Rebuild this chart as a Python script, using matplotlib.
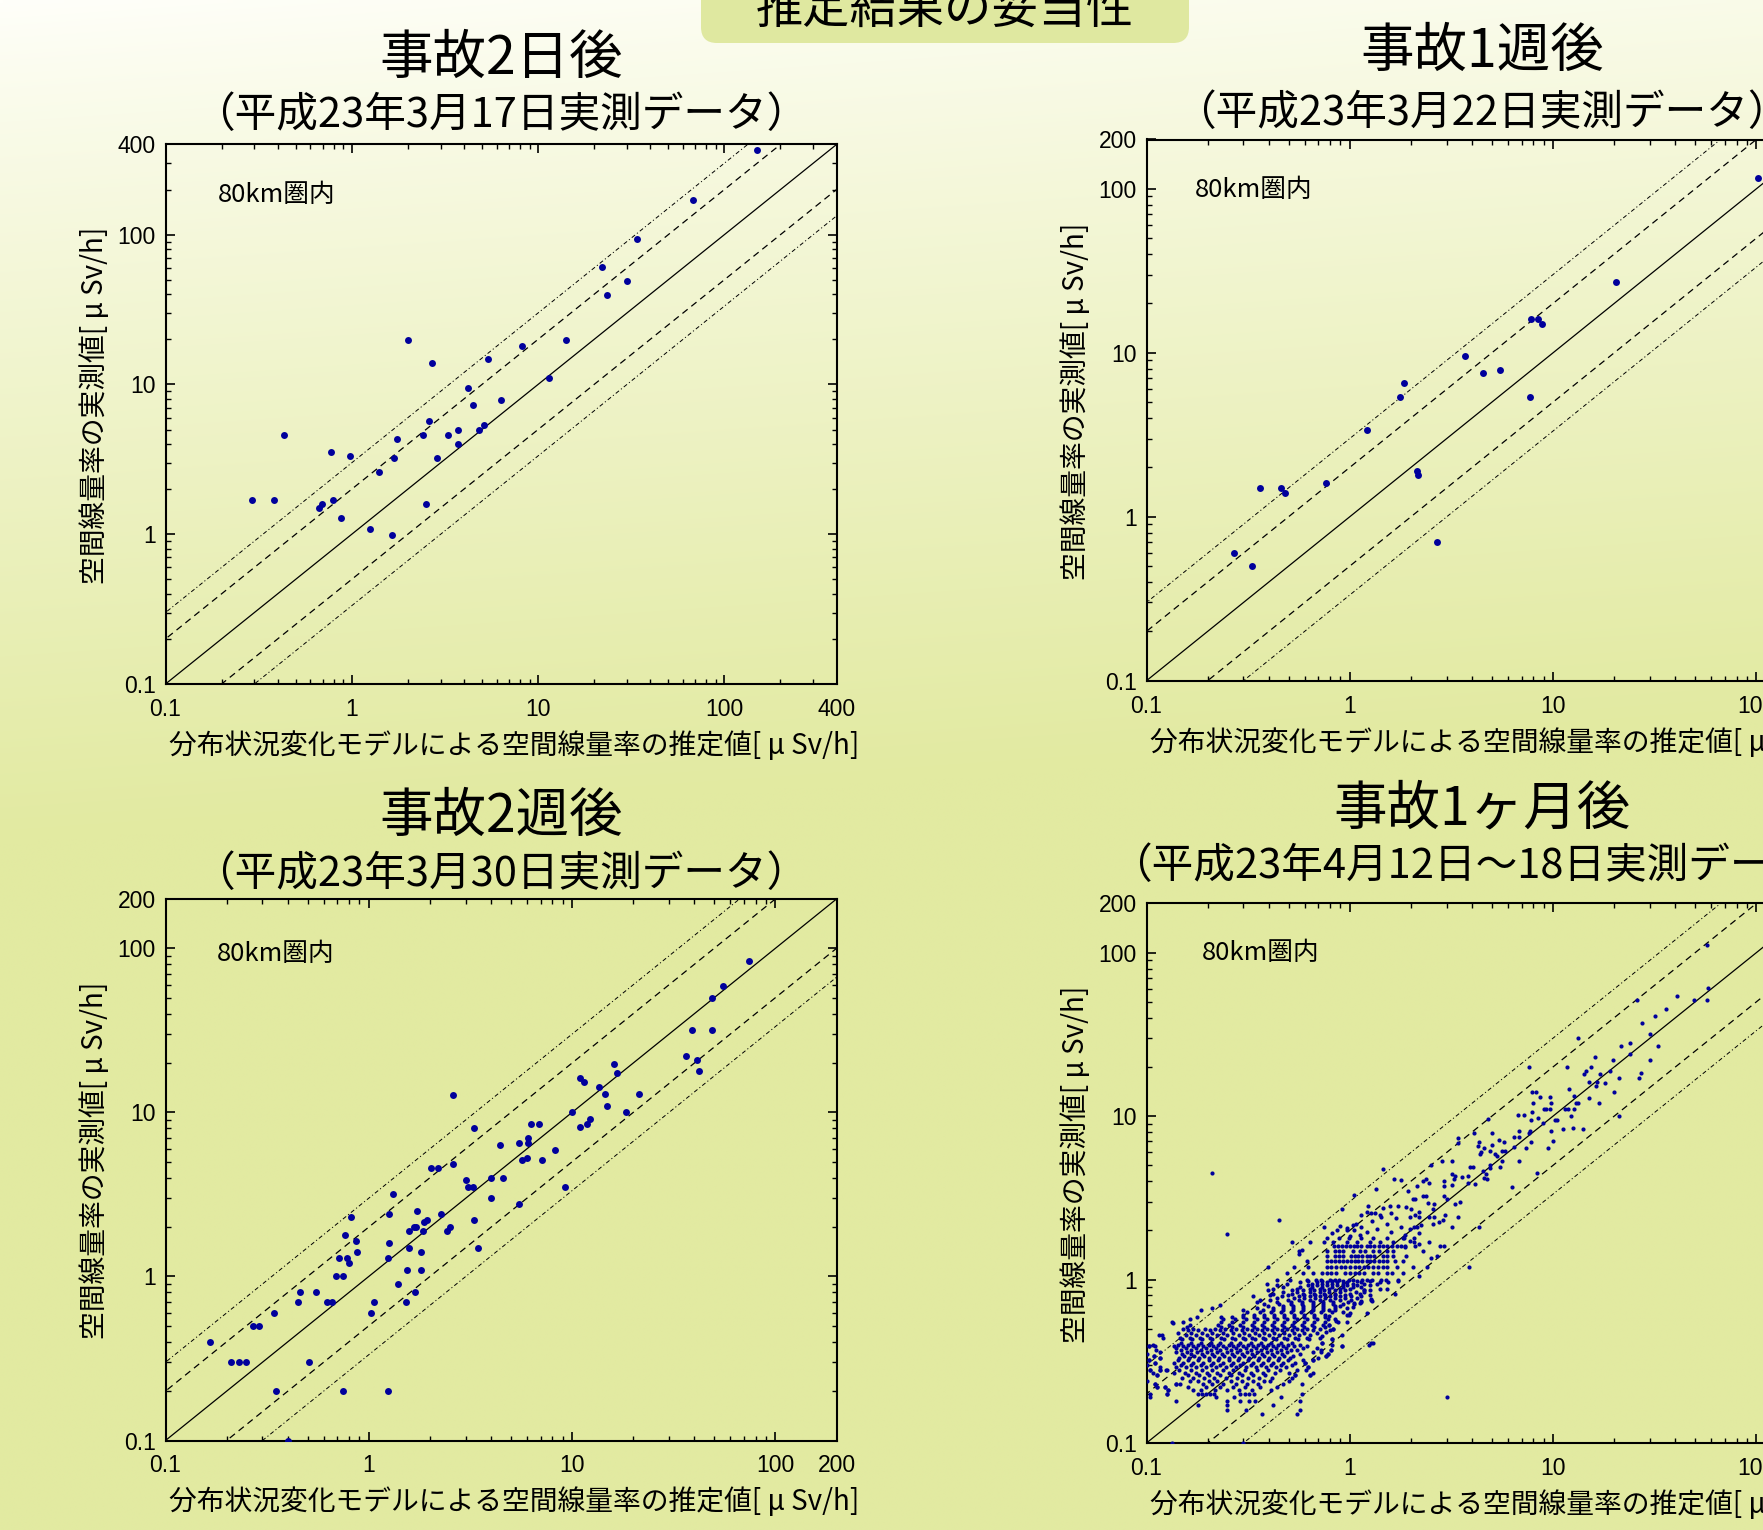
import numpy as np
import matplotlib
matplotlib.use("Agg")
import matplotlib.pyplot as plt
from matplotlib.patches import FancyBboxPatch
from matplotlib.transforms import IdentityTransform
from matplotlib.ticker import FixedLocator, FixedFormatter, LogLocator, NullFormatter

plt.rcParams["lines.scale_dashes"] = False

W, H = 1763, 1530
JP = ["Noto Sans CJK JP", "DejaVu Sans"]
NUM = ["Liberation Sans", "DejaVu Sans"]
DOT = "#00009c"

MAIN_TITLE = "推定結果の妥当性"
XLABEL = "分布状況変化モデルによる空間線量率の推定値[ μ Sv/h]"
YLABEL = "空間線量率の実測値[ μ Sv/h]"
NOTE = "80km圏内"

# ---- 事故2日後 (estimated, measured) ----
day2_pts = [(150, 365), (68, 170), (34, 94), (22, 61), (30, 49), (23.5, 39.5), (2.0, 19.8),
            (14.2, 19.8), (8.2, 18.1), (5.4, 14.8), (2.7, 13.8), (11.4, 11.1), (4.2, 9.4),
            (6.3, 7.9), (4.5, 7.3), (2.6, 5.7), (5.1, 5.4), (3.7, 5.0), (4.8, 5.0), (2.4, 4.6),
            (3.3, 4.6), (0.43, 4.6), (1.75, 4.3), (3.7, 4.0), (0.77, 3.55), (0.98, 3.35),
            (1.68, 3.25), (2.85, 3.25), (1.4, 2.6), (0.29, 1.68), (0.38, 1.68), (0.79, 1.68),
            (0.67, 1.49), (0.69, 1.58), (2.5, 1.58), (0.88, 1.29), (1.25, 1.08), (1.65, 0.99)]

# ---- 事故1週後 ----
week1_pts = [(102, 117), (20.5, 27), (7.8, 16), (8.4, 16), (8.8, 15), (3.7, 9.6), (4.5, 7.5),
             (5.5, 7.8), (7.7, 5.4), (1.84, 6.5), (1.77, 5.4), (1.21, 3.4), (2.14, 1.9),
             (2.16, 1.8), (0.76, 1.6), (0.36, 1.5), (0.46, 1.5), (0.48, 1.4), (2.7, 0.7),
             (0.27, 0.6), (0.33, 0.5)]

# ---- 事故2週後 ----
week2_pts = [(74, 84), (55, 59), (49, 50), (39, 32), (49, 32), (36.5, 22), (41, 21), (42, 18),
             (16, 19.8), (16.6, 17.3), (10.9, 16.3), (11.5, 15.4), (13.5, 14.2), (14.6, 13),
             (21.4, 13), (14.8, 11), (18.5, 10), (10, 10), (2.6, 12.8), (12.2, 9.1), (11.8, 8.5),
             (11, 8.2), (6.3, 8.5), (6.9, 8.5), (3.3, 8.0), (6.1, 7.0), (5.5, 6.5), (6.1, 6.5),
             (4.4, 6.3), (8.2, 5.9), (6.0, 5.3), (5.7, 5.1), (7.1, 5.1), (2.03, 4.6), (2.2, 4.6),
             (2.6, 4.85), (3.0, 3.9), (4.0, 4.0), (4.6, 4.0), (3.07, 3.5), (3.25, 3.5), (9.2, 3.5),
             (1.32, 3.2), (4.0, 3.0), (5.5, 2.75), (1.72, 2.5), (1.26, 2.4), (2.27, 2.4),
             (0.82, 2.3), (3.3, 2.2), (1.93, 2.2), (1.88, 2.15), (1.67, 2.0), (1.70, 2.0),
             (2.5, 2.0), (1.57, 1.9), (1.84, 1.9), (2.42, 1.9), (1.26, 1.6), (0.76, 1.8),
             (0.87, 1.65), (1.58, 1.5), (3.45, 1.5), (0.88, 1.4), (1.8, 1.4), (0.71, 1.3),
             (0.78, 1.3), (1.24, 1.3), (0.80, 1.2), (0.69, 1.0), (0.75, 1.0), (1.54, 1.1),
             (1.8, 1.1), (1.39, 0.9), (0.46, 0.8), (0.55, 0.8), (1.68, 0.8), (0.45, 0.7),
             (0.62, 0.7), (0.66, 0.7), (1.06, 0.7), (1.53, 0.7), (1.03, 0.6), (0.34, 0.6),
             (0.27, 0.5), (0.29, 0.5), (0.166, 0.4), (0.21, 0.3), (0.23, 0.3), (0.25, 0.3),
             (0.51, 0.3), (0.35, 0.2), (0.75, 0.2), (1.25, 0.2), (0.40, 0.1)]

# ---- 事故1ヶ月後: higher dose rates ----
month1_high = [(57, 112), (58, 61), (57, 51), (49.5, 51), (40.5, 54), (36, 45), (26, 51),
               (31.6, 41), (27.5, 37), (30, 32), (33, 27), (30, 22), (24, 28), (21.5, 27), (24, 24),
               (13.2, 30), (16, 23), (19.8, 22), (19, 19), (15.3, 20), (14.5, 19), (14.2, 18),
               (17, 18), (15, 16.2), (16.5, 16.2), (18, 16), (16.3, 15.2), (21, 17), (26.4, 17.2),
               (27, 18.3), (20, 14), (21, 10), (11.7, 20), (7.6, 20), (12, 14.7), (12.7, 13.2),
               (13, 12), (13.3, 12), (15, 13), (16.8, 12), (12.7, 11), (11.5, 11), (11.9, 11),
               (12.3, 10), (12.5, 8.5), (11.2, 8.3), (10.2, 9.5), (10.5, 9.5), (9.8, 8.1), (10, 7),
               (9.4, 6.4), (14, 8.4), (9.0, 11.1), (9.2, 11.1), (9.7, 11.1), (9.8, 12.1),
               (9.7, 13.1), (8.6, 13.1), (8.0, 12.1), (7.9, 10.6), (7.9, 14.1), (8.2, 14.1),
               (6.7, 10.1), (7.2, 10.1), (7.8, 9.5), (8.4, 9.8), (8.9, 9.1), (6.8, 8.1), (7.7, 8.1),
               (6.4, 7.5), (6.8, 7.5), (7.6, 7.9), (7.8, 6.9), (7.4, 6.4), (6.4, 6.5), (6.8, 5.3),
               (8.3, 4.5), (6.25, 3.7), (4.8, 9.6), (4.1, 7.9), (5.0, 7.9), (5.4, 7.1), (5.75, 6.9),
               (4.3, 6.9), (4.25, 6.6), (4.6, 6.4), (5.0, 6.7), (4.4, 6.0), (4.37, 5.9), (4.9, 6.15),
               (5.2, 5.9), (5.3, 5.7), (5.8, 6.15), (5.6, 6.15), (5.6, 5.3), (5.5, 4.9), (4.9, 5.0),
               (4.9, 4.8), (4.5, 4.6), (4.7, 4.4), (4.75, 4.1), (4.57, 4.2), (4.05, 4.9), (3.9, 4.87),
               (3.8, 4.3), (3.8, 3.9), (4.15, 3.85), (3.3, 4.3), (3.56, 4.27), (3.2, 4.4),
               (3.25, 4.15), (3.17, 3.8), (2.9, 3.75), (2.9, 4.0), (3.2, 5.3), (2.85, 5.3),
               (3.4, 7.4), (3.4, 6.85), (2.5, 5.0), (2.37, 4.1), (2.3, 4.0), (2.46, 3.9),
               (1.94, 3.5), (2.15, 3.75), (2.9, 3.25), (3.0, 3.1), (3.5, 3.0), (3.3, 2.9),
               (2.6, 2.9), (2.3, 3.25), (2.37, 3.25), (2.04, 3.1), (2.1, 3.1), (2.43, 2.93),
               (1.9, 2.77), (1.99, 2.72), (2.58, 2.72), (2.95, 2.5), (3.4, 2.43), (2.18, 2.6),
               (2.1, 2.5), (2.2, 2.43), (2.46, 2.4), (2.6, 2.4), (2.88, 2.3), (2.75, 2.25),
               (2.56, 2.2), (2.24, 2.15), (2.13, 2.1), (1.98, 2.05), (3.2, 2.1), (4.3, 2.1),
               (2.78, 1.6), (2.45, 1.7), (2.2, 1.66), (1.98, 1.71), (1.84, 1.8), (1.88, 1.58),
               (2.3, 1.5), (2.5, 1.35), (2.4, 1.2), (2.7, 1.4), (2.2, 1.05), (2.9, 1.6),
               (3.0, 0.19), (3.85, 1.2), (0.3, 0.1)]

# ---- 事故1ヶ月後: mid range and scattered points ----
month1_mid = [(0.21, 4.5), (0.25, 1.9), (0.45, 2.3), (1.46, 4.75), (1.65, 4.1), (1.78, 4.05),
              (1.35, 3.6), (1.05, 3.3), (0.92, 2.7), (1.23, 2.8), (1.21, 2.6), (1.27, 2.55),
              (1.33, 2.55), (1.41, 2.5), (1.13, 2.48), (1.46, 2.75), (1.73, 2.8), (1.57, 2.8),
              (1.6, 2.55), (0.75, 2.1), (0.87, 2.0), (1.04, 2.17), (0.97, 2.07), (1.05, 2.0),
              (0.75, 1.7), (0.64, 1.7), (0.58, 1.52), (0.56, 1.44), (0.895, 2.13), (0.972, 2.0),
              (1.07, 2.2), (1.14, 2.1), (1.21, 1.95), (1.28, 2.27), (1.36, 2.05), (1.43, 2.43),
              (1.52, 2.2), (1.59, 1.95), (1.69, 2.38), (1.79, 2.1), (1.88, 1.88), (1.98, 2.43),
              (2.06, 2.1), (2.18, 1.94), (1.12, 1.87), (1.0, 1.85), (0.814, 1.93),
              (0.186, 0.65), (0.23, 0.7), (0.133, 0.55), (0.135, 0.54),
              (0.115, 0.46), (0.11, 0.39), (0.103, 0.39), (0.103, 0.32),
              (0.109, 0.34), (0.116, 0.33), (0.11, 0.31), (0.125, 0.28), (0.117, 0.28),
              (0.113, 0.26), (0.104, 0.28), (0.11, 0.23), (0.113, 0.22), (0.124, 0.22),
              (0.127, 0.21), (0.126, 0.2), (0.14, 0.23), (0.133, 0.1),
              (1.27, 0.41), (1.3, 0.41), (1.25, 0.4), (0.92, 0.46), (0.92, 0.39), (0.81, 0.37),
              (0.78, 0.35), (0.76, 0.34), (0.72, 0.37), (0.82, 0.43), (0.73, 0.41),
              (0.66, 0.32), (0.6, 0.31), (0.64, 0.26), (0.62, 0.29),
              (0.54, 0.26), (1.22, 0.62), (1.67, 0.82), (1.28, 0.74),
              (1.27, 0.76), (1.18, 0.86), (1.14, 0.74), (1.05, 0.72), (1.0, 0.62), (0.97, 0.55),
              (0.86, 0.56), (0.79, 0.6), (0.83, 0.5), (0.76, 0.48), (0.73, 0.45), (0.79, 0.65),
              (0.79, 0.53), (1.12, 0.72), (1.04, 0.68), (0.99, 0.61)]

# measured values reported at 0.1 steps (1.0 - 1.8 μSv/h)
month1_step_levels = [1.0, 1.1, 1.2, 1.3, 1.4, 1.5, 1.6, 1.7, 1.8]
month1_step_x = [
    [0.437, 0.508, 0.613, 0.682, 0.72, 0.799, 0.843, 0.888, 0.986, 1.04, 1.15, 1.22, 1.28,
     1.43, 1.51, 1.72],
    [0.489, 0.591, 0.656, 0.73, 0.769, 0.81, 0.855, 0.95, 1.0, 1.06, 1.11, 1.17, 1.305, 1.38,
     1.53, 1.61, 1.83],
    [0.395, 0.531, 0.625, 0.769, 0.81, 0.855, 0.902, 0.95, 1.0, 1.06, 1.11, 1.17, 1.23, 1.305,
     1.38, 1.45, 1.53, 1.70, 2.05],
    [0.613, 0.769, 0.806, 0.843, 0.882, 0.922, 0.965, 1.01, 1.06, 1.10, 1.15, 1.21, 1.26, 1.32,
     1.39, 1.45, 1.52, 1.66, 1.83],
    [0.769, 0.843, 0.882, 0.922, 1.01, 1.06, 1.10, 1.15, 1.21, 1.26, 1.32, 1.45, 1.52, 1.64,
     1.90],
    [0.565, 0.769, 0.849, 0.888, 0.929, 1.04, 1.12, 1.19, 1.305, 1.39, 1.52, 1.64],
    [0.836, 0.875, 0.915, 0.958, 1.0, 1.05, 1.09, 1.14, 1.21, 1.26, 1.32, 1.39, 1.45, 1.53, 1.61,
     1.70, 1.79, 1.88, 2.10],
    [0.517, 0.83, 0.965, 1.09, 1.26, 1.41, 1.64, 2.06],
    [0.769, 0.888, 0.986, 1.13, 1.305, 1.52, 1.834, 2.06],
]

# low dose rate cloud (below 1 μSv/h), grouped by measured value
month1_low_levels = [0.15, 0.16, 0.17, 0.18, 0.19, 0.20, 0.21, 0.22, 0.23, 0.24, 0.25, 0.26,
                     0.27, 0.28, 0.29, 0.30, 0.31, 0.32, 0.33, 0.34, 0.35, 0.36, 0.37, 0.38,
                     0.39, 0.40, 0.41, 0.43, 0.44, 0.46, 0.47, 0.49, 0.50,
                     0.51, 0.53, 0.55, 0.57, 0.59, 0.61, 0.63, 0.65, 0.67, 0.69, 0.71, 0.73,
                     0.75, 0.77, 0.79, 0.80, 0.82, 0.84, 0.86, 0.88, 0.90, 0.92, 0.94, 0.96,
                     0.98]
month1_low_x = [
    [0.37, 0.55],
    [0.25, 0.31, 0.57],
    [0.18, 0.25, 0.42],
    [0.14, 0.25, 0.29, 0.32, 0.34, 0.57],
    [0.104, 0.22, 0.27, 0.46],
    [0.104, 0.126, 0.179, 0.187, 0.196, 0.205, 0.214, 0.288, 0.304, 0.319, 0.338, 0.585],
    [0.127, 0.17, 0.185, 0.217, 0.25, 0.285, 0.329, 0.41],
    [0.113, 0.124, 0.16, 0.196, 0.23, 0.267, 0.304, 0.362, 0.44],
    [0.11, 0.14, 0.146, 0.19, 0.211, 0.239, 0.276, 0.313, 0.355, 0.471, 0.58],
    [0.101, 0.164, 0.18, 0.202, 0.223, 0.259, 0.294, 0.335, 0.378, 0.405, 0.5],
    [0.149, 0.17, 0.192, 0.216, 0.247, 0.278, 0.315, 0.358, 0.413, 0.52],
    [0.113, 0.16, 0.181, 0.203, 0.231, 0.261, 0.296, 0.335, 0.383, 0.54, 0.64],
    [0.108, 0.136, 0.155, 0.176, 0.198, 0.223, 0.254, 0.285, 0.326, 0.373, 0.428, 0.5, 0.66],
    [0.104, 0.117, 0.126, 0.145, 0.165, 0.187, 0.209, 0.239, 0.267, 0.304, 0.348, 0.398, 0.453,
     0.55, 0.607],
    [0.116, 0.14, 0.156, 0.176, 0.196, 0.219, 0.247, 0.276, 0.308, 0.345, 0.387, 0.434, 0.485,
     0.62],
    [0.10, 0.147, 0.165, 0.185, 0.207, 0.231, 0.259, 0.29, 0.326, 0.365, 0.408, 0.457, 0.517],
    [0.11, 0.136, 0.152, 0.17, 0.19, 0.213, 0.239, 0.267, 0.30, 0.335, 0.376, 0.42, 0.471,
     0.536, 0.6],
    [0.103, 0.143, 0.16, 0.18, 0.202, 0.226, 0.254, 0.283, 0.317, 0.355, 0.398, 0.445, 0.499,
     0.591, 0.66],
    [0.116, 0.145, 0.162, 0.181, 0.203, 0.228, 0.255, 0.286, 0.319, 0.358, 0.401, 0.45, 0.508,
     0.7],
    [0.109, 0.153, 0.171, 0.192, 0.215, 0.24, 0.269, 0.301, 0.338, 0.378, 0.423, 0.474, 0.527,
     0.76],
    [0.10, 0.149, 0.166, 0.187, 0.209, 0.235, 0.263, 0.294, 0.329, 0.368, 0.413, 0.462, 0.569,
     0.78],
    [0.117, 0.14, 0.158, 0.177, 0.198, 0.221, 0.248, 0.278, 0.311, 0.348, 0.39, 0.437, 0.489,
     0.656, 0.72],
    [0.111, 0.147, 0.165, 0.185, 0.207, 0.231, 0.259, 0.29, 0.326, 0.365, 0.408, 0.457, 0.512,
     0.548, 0.81],
    [0.14, 0.156, 0.176, 0.196, 0.219, 0.247, 0.276, 0.308, 0.345, 0.387, 0.434, 0.485, 0.591,
     0.687],
    [0.103, 0.136, 0.152, 0.17, 0.19, 0.213, 0.239, 0.267, 0.30, 0.335, 0.376, 0.42, 0.471,
     0.531, 0.613, 0.92],
    [0.108, 0.143, 0.16, 0.18, 0.202, 0.226, 0.254, 0.283, 0.317, 0.355, 0.398, 0.445, 0.499,
     0.569, 0.814],
    [0.147, 0.165, 0.185, 0.207, 0.231, 0.259, 0.29, 0.326, 0.365, 0.408, 0.457, 0.519, 0.73],
    [0.15, 0.168, 0.188, 0.211, 0.24, 0.271, 0.304, 0.34, 0.383, 0.434, 0.489, 0.554, 0.632,
     0.82],
    [0.12, 0.146, 0.164, 0.183, 0.205, 0.233, 0.264, 0.297, 0.332, 0.373, 0.42, 0.474, 0.537,
     0.613, 0.713],
    [0.119, 0.156, 0.176, 0.199, 0.223, 0.25, 0.284, 0.319, 0.358, 0.401, 0.45, 0.504, 0.565,
     0.637],
    [0.143, 0.165, 0.187, 0.211, 0.237, 0.267, 0.301, 0.34, 0.378, 0.426, 0.474, 0.531, 0.595,
     0.687],
    [0.16, 0.18, 0.205, 0.23, 0.259, 0.294, 0.331, 0.368, 0.414, 0.462, 0.517, 0.58, 0.661,
     0.799],
    [0.152, 0.17, 0.194, 0.217, 0.243, 0.276, 0.311, 0.348, 0.39, 0.437, 0.489, 0.548, 0.613,
     0.713, 0.83],
    [0.158, 0.233, 0.264, 0.297, 0.338, 0.378, 0.423, 0.474, 0.531, 0.595, 0.666, 0.757],
    [0.164, 0.226, 0.255, 0.288, 0.329, 0.368, 0.413, 0.462, 0.517, 0.58, 0.649, 0.735, 0.79],
    [0.152, 0.233, 0.264, 0.297, 0.338, 0.378, 0.423, 0.474, 0.531, 0.595, 0.666, 0.757, 0.878],
    [0.164, 0.239, 0.272, 0.308, 0.348, 0.39, 0.437, 0.489, 0.548, 0.613, 0.687, 0.784, 0.845],
    [0.177, 0.233, 0.264, 0.297, 0.338, 0.378, 0.423, 0.474, 0.531, 0.595, 0.666, 0.757],
    [0.30, 0.338, 0.378, 0.423, 0.474, 0.531, 0.595, 0.666, 0.757, 0.97],
    [0.313, 0.362, 0.408, 0.457, 0.512, 0.573, 0.642, 0.72, 0.814, 0.929],
    [0.30, 0.373, 0.417, 0.471, 0.527, 0.591, 0.661, 0.741, 0.845],
    [0.21, 0.348, 0.417, 0.471, 0.527, 0.591, 0.661, 0.741, 0.845, 0.965],
    [0.398, 0.471, 0.527, 0.591, 0.661, 0.741, 0.845, 0.895],
    [0.378, 0.45, 0.512, 0.58, 0.656, 0.735, 0.824, 0.922, 1.05],
    [0.35, 0.437, 0.512, 0.58, 0.656, 0.735, 0.824, 0.983, 1.14],
    [0.362, 0.405, 0.499, 0.565, 0.637, 0.713, 0.799, 0.895, 1.01, 1.27],
    [0.437, 0.531, 0.595, 0.674, 0.754, 0.845, 0.947, 1.08],
    [0.335, 0.462, 0.565, 0.637, 0.713, 0.799, 0.895, 1.01, 1.14],
    [0.405, 0.499, 0.595, 0.674, 0.754, 0.845, 0.947, 1.26],
    [0.42, 0.517, 0.591, 0.666, 0.746, 0.845, 1.0, 1.12],
    [0.471, 0.548, 0.637, 0.713, 0.791, 0.895, 1.07, 1.17],
    [0.398, 0.517, 0.591, 0.666, 0.746, 0.845, 0.947, 1.18, 1.26],
    [0.42, 0.548, 0.637, 0.713, 0.791, 0.895, 1.0, 1.41, 1.52],
    [0.471, 0.569, 0.649, 0.727, 0.814, 0.929, 1.04, 1.13],
    [0.437, 0.625, 0.687, 0.769, 0.862, 0.965, 1.08, 1.26],
    [0.393, 0.489, 0.649, 0.727, 0.814, 0.929, 1.04, 1.18, 1.36],
    [0.569, 0.687, 0.769, 0.862, 0.965, 1.13, 1.41, 1.55],
    [0.625, 0.727, 0.814, 0.929, 1.08, 1.26, 1.73],
]

# reference lines: 1:1, factor 2 and factor 3
ratio_solid = [1.0]
ratio_dashed = [2.0, 0.5]
ratio_dashdot = [3.0, 1.0 / 3.0]

ticks_400 = [0.1, 1, 10, 100, 400]
labels_400 = ["0.1", "1", "10", "100", "400"]
ticks_200 = [0.1, 1, 10, 100, 200]
labels_200 = ["0.1", "1", "10", "100", "200"]


def month1_points():
    pts = list(month1_high) + list(month1_mid)
    for lvl, xs in zip(month1_step_levels, month1_step_x):
        pts += [(v, lvl) for v in xs]
    for lvl, xs in zip(month1_low_levels, month1_low_x):
        pts += [(v, lvl) for v in xs]
    return pts


fig = plt.figure(figsize=(W / 100, H / 100), dpi=100)

# slide background: pale at the top, yellow-green lower down
bg = fig.add_axes([0, 0, 1, 1], zorder=-10)
yy, xx = np.mgrid[0:1:300j, 0:1:300j]
t = np.clip((yy + 0.08 * xx) / 0.55, 0, 1) ** 0.85
c_top = np.array([255, 255, 250]) / 255
c_bot = np.array([226, 234, 161]) / 255
bg.imshow(c_top + (c_bot - c_top) * t[..., None], aspect="auto", extent=(0, 1, 0, 1),
          interpolation="bilinear")
bg.set_axis_off()

# heading box at the top of the slide
box = FancyBboxPatch((701, H - 43), 488, 80, boxstyle="round,pad=0,rounding_size=16",
                     transform=IdentityTransform(), facecolor="#dfe8a0", edgecolor="none",
                     zorder=1)
fig.add_artist(box)
fig.text(945 / W, 1 - 10.5 / H, MAIN_TITLE, fontsize=34, family=JP, ha="center", va="center",
         zorder=2)


def panel(left, top, bottom, pts, ticks, labels, ms, title, title_y, sub, sub_y, note_xy):
    right = left + 671
    ax = fig.add_axes([left / W, 1 - bottom / H, (right - left) / W, (bottom - top) / H])
    ax.set_facecolor("none")
    ax.set_xscale("log")
    ax.set_yscale("log")
    ax.set_xlim(0.1, ticks[-1])
    ax.set_ylim(0.1, ticks[-1])

    ref = np.array([0.01, 1000.0])
    for r in ratio_solid:
        ax.plot(ref, ref * r, color="k", lw=0.9, zorder=2)
    for r in ratio_dashed:
        ax.plot(ref, ref * r, color="k", lw=0.9, dashes=(4.8, 3.4), zorder=2)
    for r in ratio_dashdot:
        ax.plot(ref, ref * r, color="k", lw=0.7, dashes=(3.0, 1.8, 0.8, 1.8), zorder=2)

    xs = [p[0] for p in pts]
    ys = [p[1] for p in pts]
    ax.plot(xs, ys, "o", ms=ms, color=DOT, mec="none", zorder=3)

    for axis in (ax.xaxis, ax.yaxis):
        axis.set_major_locator(FixedLocator(ticks))
        axis.set_major_formatter(FixedFormatter(labels))
        axis.set_minor_locator(LogLocator(base=10, subs=np.arange(2, 10), numticks=30))
        axis.set_minor_formatter(NullFormatter())
    ax.tick_params(which="both", direction="in", top=True, right=True, colors="k")
    ax.tick_params(which="major", length=6.7, width=1.2, labelsize=16.5)
    ax.tick_params(which="minor", length=3.4, width=1.0)
    ax.tick_params(axis="x", which="major", pad=10)
    ax.tick_params(axis="y", which="major", pad=7)
    for lab in ax.get_xticklabels() + ax.get_yticklabels():
        lab.set_fontfamily(NUM)
    for s in ax.spines.values():
        s.set_linewidth(1.5)

    ax.text(note_xy[0], note_xy[1], NOTE, transform=ax.transAxes, fontsize=18.5, family=JP,
            ha="left", va="center")

    cx = (left + right) / 2
    fig.text(cx / W, 1 - title_y / H, title, fontsize=38.5, family=JP, ha="center", va="center")
    fig.text(cx / W, 1 - sub_y / H, sub, fontsize=30, family=JP, ha="center", va="center")
    fig.text((left + 349) / W, 1 - (bottom + 62) / H, XLABEL, fontsize=20, family=JP,
             ha="center", va="center")
    fig.text((left - 70) / W, 1 - ((top + bottom) / 2 - 9) / H, YLABEL, fontsize=20, family=JP,
             ha="center", va="center", rotation=90)
    return ax


panel(165.5, 144.5, 684.0, day2_pts, ticks_400, labels_400, 5.0,
      "事故2日後", 58, "（平成23年3月17日実測データ）", 115.5, (0.078, 0.906))
panel(1146.5, 139.5, 680.7, week1_pts, ticks_200, labels_200, 5.0,
      "事故1週後", 51, "（平成23年3月22日実測データ）", 113.5, (0.072, 0.907))
panel(165.5, 899.0, 1440.5, week2_pts, ticks_200, labels_200, 5.0,
      "事故2週後", 816.5, "（平成23年3月30日実測データ）", 874.5, (0.077, 0.898))
panel(1146.5, 903.5, 1443.0, month1_points(), ticks_200, labels_200, 3.0,
      "事故1ヶ月後", 808.5, "（平成23年4月12日～18日実測データ）", 867, (0.083, 0.908))

fig.savefig("out.png", dpi=100)
